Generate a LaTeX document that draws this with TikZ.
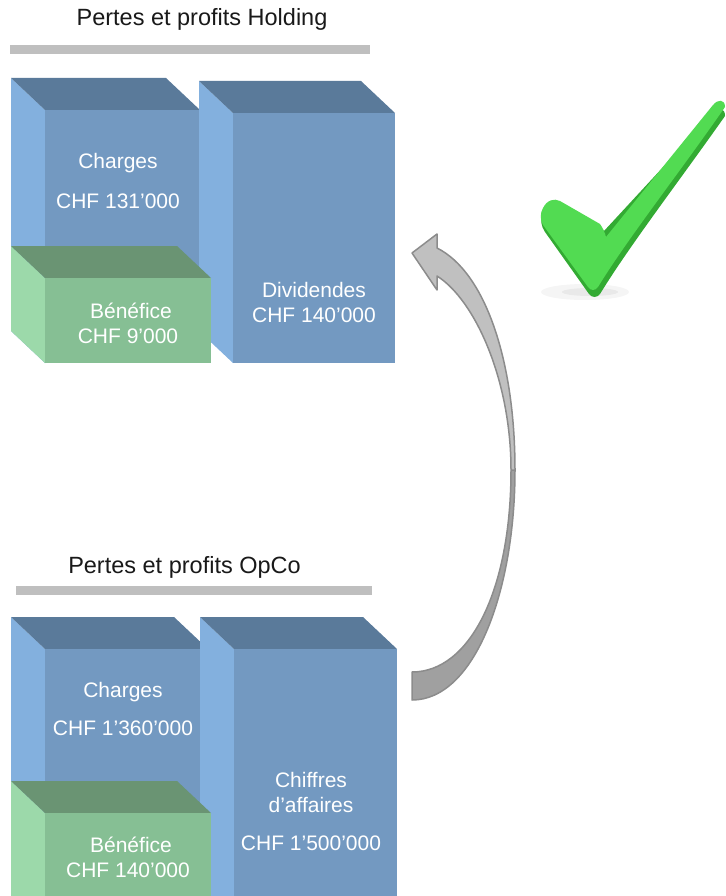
\documentclass[tikz,border=0pt]{standalone}
\usepackage{fontspec}
\setmainfont{Liberation Sans}
\usepackage{tikz}
\usetikzlibrary{calc}
\usepackage{xcolor}
\definecolor{bleuFace}{HTML}{7399C1}
\definecolor{bleuCote}{HTML}{83B0DE}
\definecolor{bleuDessus}{HTML}{5A7A9A}
\definecolor{vertFace}{HTML}{86BF94}
\definecolor{vertCote}{HTML}{9CD9AA}
\definecolor{vertDessus}{HTML}{6A9473}
\definecolor{grisBarre}{HTML}{BFBFBF}
\definecolor{grisClair}{HTML}{C0C0C0}
\definecolor{grisSombre}{HTML}{A0A0A0}
\definecolor{grisBord}{HTML}{8C8C8C}
\definecolor{vertCoche}{HTML}{52DB52}
\definecolor{vertOmbre}{HTML}{33AA33}
% bloc 3D: x, y (coin arriere), largeur, bas, couleurs
\newcommand{\bloc}[5]{%
  \fill[#5Cote] (#1,#2) -- ++(34,32) -- (#1+34,#4) -- (#1,#4-32) -- cycle;
  \fill[#5Dessus] (#1,#2) -- ++(#3,0) -- ++(34,32) -- ++(-#3,0) -- cycle;
  \fill[#5Face] (#1+34,#2+32) rectangle (#1+34+#3,#4);
}
\begin{document}
\begin{tikzpicture}[x=1pt,y=-1pt,
    every node/.style={inner sep=0pt,anchor=base,text=white,font=\fontsize{21}{25}\selectfont},
    titre/.style={text=black!90,font=\fontsize{23.5}{28}\selectfont},
    barre/.style={grisBarre,line width=9pt},
    flecheClaire/.style={fill=grisClair,draw=grisBord,line width=1.5pt,line join=round},
    flecheSombre/.style={fill=grisSombre,draw=grisBord,line width=1.5pt,line join=round}]

    \useasboundingbox (0,0) rectangle (725,896);
    \clip (0,0) rectangle (725,896);

    % Holding
    \node[titre] (tHolding) at (202,26) {Pertes et profits Holding};
    \draw[barre] (10,50) -- (370,50);

    \bloc{11}{78}{155}{363}{bleu}
    \bloc{199}{81}{162}{363}{bleu}
    \bloc{11}{246}{166}{363}{vert}

    \node (chargesH) at (118,169) {Charges};
    \node (montantCH) at (118,208) {CHF 131’000};
    \node (beneficeH) at (131,318) {Bénéfice};
    \node (montantBH) at (128,343) {CHF 9’000};
    \node (dividendes) at (314,297) {Dividendes};
    \node (montantD) at (314,322) {CHF 140’000};

    % OpCo
    \node[titre] (tOpCo) at (184.5,573) {Pertes et profits OpCo};
    \draw[barre] (16,590) -- (372,590);

    \bloc{11}{617}{163}{930}{bleu}
    \bloc{200}{617}{163}{930}{bleu}
    \bloc{11}{781}{166}{930}{vert}

    \node (chargesO) at (123,697) {Charges};
    \node (montantCO) at (123,735) {CHF 1’360’000};
    \node (chiffres) at (311,787) {Chiffres};
    \node (affaires) at (311,812) {d’affaires};
    \node (montantCA) at (311,850) {CHF 1’500’000};
    \node (beneficeO) at (131,852) {Bénéfice};
    \node (montantBO) at (128,877) {CHF 140’000};

    % fleche courbe
    \coordinate (queueHaut) at (412,672);
    \coordinate (queueBas) at (412,700);
    \coordinate (milieuExt) at (515,470);
    \coordinate (milieuInt) at (511,470);
    \coordinate (pointe) at (412,253);
    \filldraw[flecheSombre] (queueBas) .. controls (475,700) and (515,590) .. (milieuExt)
        -- (milieuInt) .. controls (511,590) and (470,672) .. (queueHaut) -- cycle;
    \filldraw[flecheClaire] (milieuExt) .. controls (515,360) and (485,272) .. (437,248)
        -- (437,234) -- (pointe) -- (437,290) -- (437,276)
        .. controls (475,300) and (511,380) .. (milieuInt) -- cycle;

    % coche
    \fill[black,opacity=0.04] (585,292) ellipse (44 and 8);
    \fill[black,opacity=0.05] (590,292) ellipse (28 and 4);
    \fill[vertOmbre] (543,214) .. controls (548,205) and (556,204) .. (562,207)
        -- (604,231) -- (714,112) .. controls (719,107) and (725,108) .. (725,116)
        .. controls (680,180) and (630,245) .. (600,294) .. controls (597,298) and (592,298) .. (589,294)
        -- (545,232) .. controls (541,226) and (540,220) .. (543,214) -- cycle;
    \fill[vertCoche] (543,208) .. controls (547,200) and (554,198) .. (560,201)
        -- (600,224) .. controls (603,228) and (605,233) .. (606,237)
        -- (713,105) .. controls (718,99) and (725,99) .. (725,107)
        .. controls (680,172) and (628,238) .. (598,287) .. controls (595,291) and (591,291) .. (588,287)
        -- (543,225) .. controls (540,220) and (540,213) .. (543,208) -- cycle;

\end{tikzpicture}
\end{document}
